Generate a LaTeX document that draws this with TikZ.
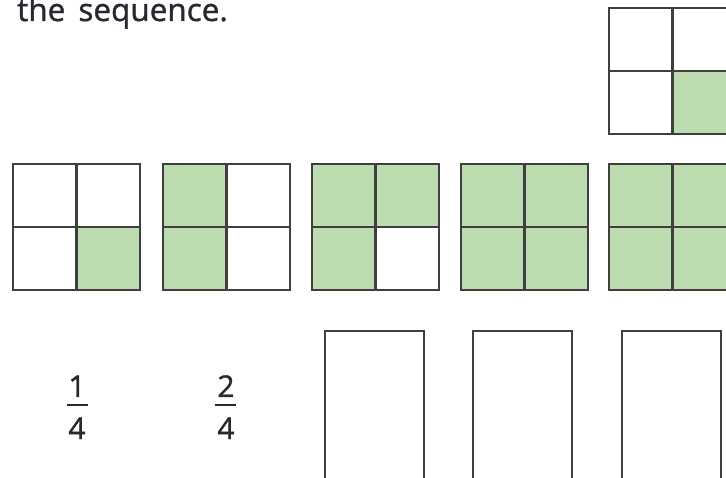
\documentclass[tikz,border=0pt]{standalone}
\usepackage{fontspec}
\setmainfont{Open Sans}
\newfontfamily\semifont{Open Sans}[FakeBold=1.2,WordSpace=1.6]
\definecolor{gfill}{HTML}{BDDCB0}
\definecolor{gline}{HTML}{3F3F3F}
\definecolor{ink}{HTML}{2A2730}
\newcommand\quadsq[6]{%
  \begin{scope}[shift={(#1,#2)}]
    \ifnum#3=1 \fill[gfill] (0,0) rectangle (63.5,63);\fi
    \ifnum#4=1 \fill[gfill] (63.5,0) rectangle (127,63);\fi
    \ifnum#5=1 \fill[gfill] (0,63) rectangle (63.5,126);\fi
    \ifnum#6=1 \fill[gfill] (63.5,63) rectangle (127,126);\fi
    \draw[gridline] (0,0) rectangle (127,126);
    \draw[gridline] (63.5,0) -- (63.5,126);
    \draw[gridline] (0,63) -- (127,63);
  \end{scope}}
\begin{document}
\begin{tikzpicture}[x=1pt,y=-1pt,
  gridline/.style={draw=gline,line width=2.6pt},
  answerbox/.style={draw=gline,line width=2.4pt},
  txt/.style={text=ink,font=\semifont\fontsize{31.5}{34}\selectfont,inner sep=0pt},
  digit/.style={text=ink,font=\semifont\fontsize{30}{32}\selectfont,inner sep=0pt}]
\useasboundingbox (0,0) rectangle (726,478);
\clip (0,0) rectangle (726,478);
\node[txt,anchor=base west] (title) at (17,21) {the sequence.};
% top square
\quadsq{609}{8}{0}{0}{0}{1}
% row of squares
\quadsq{13}{164}{0}{0}{0}{1}
\quadsq{163}{164}{1}{0}{1}{0}
\quadsq{312}{164}{1}{1}{1}{0}
\quadsq{461}{164}{1}{1}{1}{1}
\quadsq{609}{164}{1}{1}{1}{1}
% fractions
\node[digit,anchor=base] (n1) at (77,397) {1};
\node[digit,anchor=base] (d1) at (77,439) {4};
\draw[ink,line width=2.4pt] (67,405) -- (88,405);
\node[digit,anchor=base] (n2) at (226,397) {2};
\node[digit,anchor=base] (d2) at (226,439) {4};
\draw[ink,line width=2.4pt] (215,405) -- (236,405);
% answer boxes
\draw[answerbox] (325,331) rectangle (424,500);
\draw[answerbox] (473,331) rectangle (572,500);
\draw[answerbox] (622,331) rectangle (721,500);
\end{tikzpicture}
\end{document}
